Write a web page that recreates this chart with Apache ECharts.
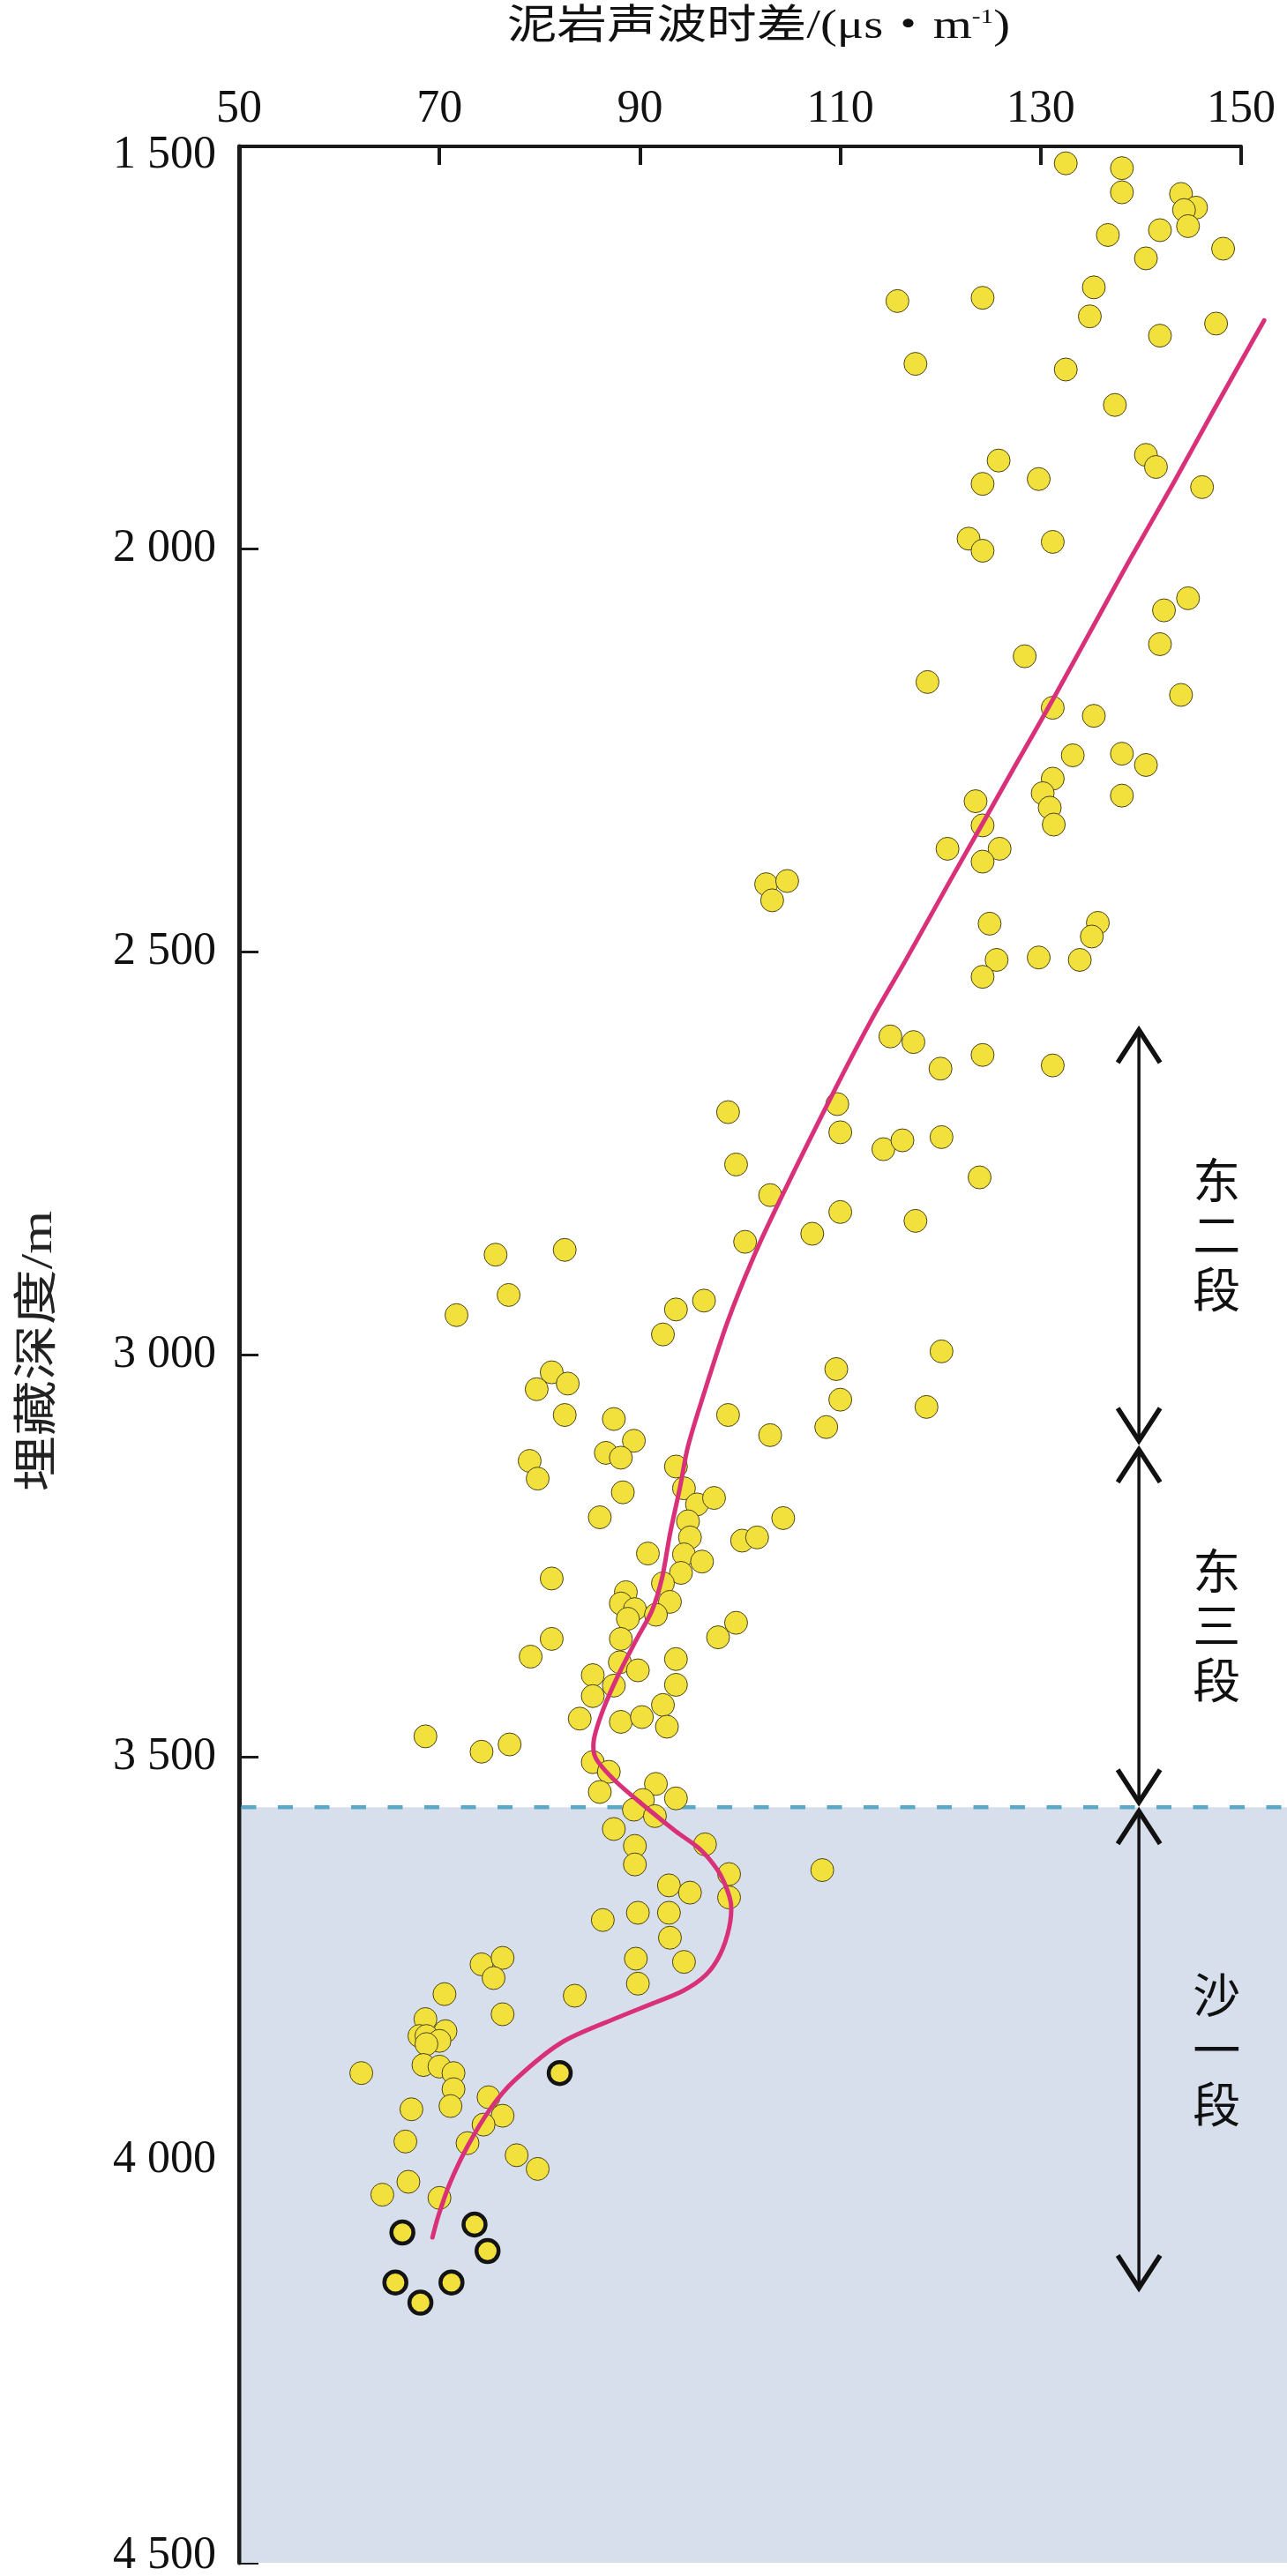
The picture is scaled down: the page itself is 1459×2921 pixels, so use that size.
<!DOCTYPE html>
<html>
<head>
<meta charset="utf-8">
<script src="https://cdn.jsdelivr.net/npm/echarts@6/dist/echarts.min.js"></script>
<style>
html,body{margin:0;padding:0;background:#fff;}
#chart{width:1459px;height:2921px;}
</style>
</head>
<body>
<div id="chart"></div>
<script>
// ---------------- DATA ----------------
const xTicks = [50, 70, 90, 110, 130, 150];
const depthTicks = [1500, 2000, 2500, 3000, 3500, 4000, 4500];

// mudstone sonic transit time (μs/m) vs burial depth (m)
const shalePoints = [
[132.5,1521],[138.1,1527],[138.1,1557],[144.0,1559],[145.5,1576],[144.3,1579],[144.7,1599],[141.9,1604],[136.7,1610],[148.2,1627],
[140.5,1639],[135.3,1675],[115.7,1692],[124.2,1688],[134.9,1711],[147.5,1720],[141.9,1735],[117.5,1770],[132.5,1777],[137.4,1821],
[125.8,1890],[124.2,1919],[129.8,1913],[140.5,1883],[141.5,1898],[146.1,1923],[122.8,1987],[124.2,2002],[131.2,1991],[144.7,2061],
[142.3,2076],[141.9,2118],[128.4,2133],[118.7,2165],[144.0,2181],[131.2,2197],[135.3,2207],[133.2,2256],[138.1,2254],[140.5,2268],
[138.1,2306],[131.2,2285],[130.2,2303],[130.9,2321],[131.3,2342],[123.5,2313],[124.2,2343],[120.7,2372],[125.9,2372],[124.2,2388],
[124.9,2465],[135.7,2464],[135.1,2481],[125.6,2510],[129.8,2507],[133.9,2510],[124.2,2531],[115.0,2605],[117.3,2612],[120.0,2645],
[124.2,2628],[131.2,2641],[102.6,2416],[103.2,2436],[104.7,2412],
[109.7,2689],[98.8,2699],[110.0,2724],[114.3,2745],[116.2,2734],[120.1,2730],[123.9,2780],[99.6,2764],[103.0,2802],[110.0,2823],
[107.2,2850],[117.5,2834],[100.5,2860],[93.6,2944],[96.4,2933],[92.3,2975],[120.1,2996],[109.6,3018],[110.0,3056],[118.6,3065],
[98.8,3075],[103.0,3100],[108.6,3090],[93.6,3139],
[75.6,2876],[82.5,2870],[76.9,2926],[71.7,2951],
[81.2,3022],[79.7,3043],[82.8,3036],[82.5,3075],[87.4,3080],[89.4,3107],[86.6,3122],[88.1,3128],[79.0,3132],[79.8,3154],
[88.3,3171],[86.0,3202],
[94.4,3166],[95.7,3186],[94.8,3207],[95.0,3227],[90.8,3247],[94.4,3248],[96.2,3257],[94.1,3271],[81.2,3278],[92.3,3284],
[88.6,3295],[88.1,3309],[89.5,3316],[88.8,3328],[93.0,3307],[91.6,3323],[88.1,3353],[81.2,3353],[79.1,3375],[88.0,3382],
[89.8,3392],[85.3,3398],[87.4,3411],[85.3,3424],[93.6,3378],[93.6,3410],[92.3,3435],[92.7,3462],[84.0,3452],[88.1,3456],
[90.2,3450],[68.6,3474],[74.2,3493],[77.0,3484],[85.3,3506],[86.9,3518],[86.0,3543],[91.6,3533],[93.6,3551],[90.3,3553],
[89.4,3565],[91.5,3573],
[87.4,3589],[89.5,3610],[89.5,3633],[96.5,3608],[98.9,3645],[108.2,3640],[92.9,3659],[95.0,3668],[98.9,3674],
[97.4,3178],[104.3,3203],[100.2,3231],[101.7,3227],[99.6,3333],[97.8,3351],
[86.3,3702],[74.2,3757],[76.3,3749],[75.4,3774],[83.5,3796],[70.5,3794],[76.3,3819],[68.6,3825],[70.6,3840],[68.0,3846],
[68.7,3846],[70.0,3852],[68.7,3856],[68.4,3882],[70.0,3884],[71.4,3892],[62.2,3892],[71.4,3912],[71.1,3933],[67.2,3937],
[74.9,3922],[76.3,3945],[74.4,3956],[72.8,3979],[66.6,3977],[77.7,3994],[79.8,4011],[66.9,4027],[64.3,4043],[70.0,4047],
[89.8,3693],[92.9,3693],[93.0,3724],[89.6,3750],[94.4,3754],[89.8,3781]
];

// samples drawn with a heavy black rim
const rimmedPoints = [[82.0,3892],[66.3,4090],[73.5,4080],[74.8,4113],[65.6,4152],[71.2,4152],[68.1,4177]];

// trend curve
const trendDt = [152.3,147.2,143.2,138.9,136.2,131.2,127.4,124.5,120.9,116.5,113.3,109.5,104.3,101.3,98.7,96.3,94.8,94.0,93.0,92.2,91.2,89.6,87.8,86.3,85.4,85.6,87.6,90.7,93.6,96.0,97.7,98.6,99.1,98.9,98.0,96.6,94.3,91.2,88.0,82.2,77.5,75.1,72.8,71.0,69.9,69.3];
const trendDepth = [1716,1829,1919,2013,2074,2187,2270,2334,2413,2511,2580,2670,2800,2880,2961,3052,3114,3165,3223,3278,3318,3355,3399,3442,3479,3501,3530,3563,3592,3614,3639,3661,3683,3712,3745,3770,3790,3806,3822,3854,3901,3936,3983,4030,4069,4096];

// stratigraphic intervals
const intervalNames = ['东二段', '东三段', '沙一段'];
const intervalTop = [2597, 3118, 3567];
const intervalBottom = [3107, 3556, 4159];
const boundaryDepth = 3562;

// ---------------- LAYOUT CONSTANTS ----------------
const SERIF = "'Liberation Serif', 'Noto Sans CJK SC', serif";
const CJK = "'Noto Sans CJK SC', sans-serif";
const ARROW_X = 139.8;

const chart = echarts.init(document.getElementById('chart'), null, {renderer: 'canvas'});

function fmtDepth(v) {
  const s = String(v);
  const t = s.slice(0, -3) + ' ' + s.slice(-3);
  if (v === depthTicks[0]) return '{first|' + t + '}';
  if (v === depthTicks[depthTicks.length - 1]) return '{last|' + t + '}';
  return '{n|' + t + '}';
}

const labelFont = {fontSize: 52, fontFamily: SERIF, color: '#111'};

const option = {
  animation: false,
  backgroundColor: '#ffffff',
  grid: {left: 271, right: 52, top: 166, bottom: 15, containLabel: false, outerBoundsMode: 'none'},
  xAxis: {
    type: 'value', position: 'top', min: xTicks[0], max: xTicks[xTicks.length - 1], interval: 20,
    axisLine: {show: true, onZero: false, lineStyle: {color: '#1a1a1a', width: 4}},
    axisTick: {show: true, inside: true, length: 21, lineStyle: {color: '#1a1a1a', width: 4}},
    axisLabel: Object.assign({margin: 16}, labelFont),
    splitLine: {show: false}
  },
  yAxis: {
    type: 'value', inverse: true, min: depthTicks[0], max: depthTicks[depthTicks.length - 1], interval: 500,
    axisLine: {show: true, onZero: false, lineStyle: {color: '#1a1a1a', width: 5}},
    axisTick: {show: true, inside: true, length: 22, lineStyle: {color: '#1a1a1a', width: 3}},
    axisLabel: {
      margin: 26, formatter: fmtDepth,
      rich: {
        n: Object.assign({}, labelFont),
        first: Object.assign({padding: [20, 0, 0, 0]}, labelFont),
        last: Object.assign({padding: [0, 0, 16, 0]}, labelFont)
      }
    },
    splitLine: {show: false}
  },
  graphic: [
    {
      type: 'text', x: 860, y: 31, scaleX: 1.23, silent: true,
      style: {
        text: '{a|泥岩声波时差/(μs・m}{s|-1}{a|)}',
        align: 'center', verticalAlign: 'middle',
        rich: {
          a: {fontSize: 46, fontFamily: SERIF, fill: '#111'},
          s: {fontSize: 24, fontFamily: SERIF, fill: '#111', verticalAlign: 'top'}
        }
      }
    },
    {
      type: 'text', x: 45, y: 1532, rotation: Math.PI / 2, scaleX: 1.26, silent: true,
      style: {text: '埋藏深度/m', fontSize: 50, fontFamily: SERIF, fill: '#222', align: 'center', verticalAlign: 'middle'}
    }
  ],
  series: [
    {
      // shaded 沙一段 zone + dashed boundary
      type: 'custom', coordinateSystem: 'cartesian2d', clip: false, silent: true, z: 1,
      data: [[xTicks[0], boundaryDepth, depthTicks[depthTicks.length - 1]]],
      encode: {x: 0, y: [1, 2]},
      renderItem: function (params, api) {
        const tl = api.coord([api.value(0), api.value(1)]);
        const bl = api.coord([api.value(0), api.value(2)]);
        const W = api.getWidth();
        const x0 = tl[0] + 2.5;
        return {
          type: 'group',
          children: [
            {type: 'rect', shape: {x: x0, y: tl[1], width: W - x0, height: bl[1] - tl[1]}, style: {fill: '#d8dfec'}},
            {type: 'line', shape: {x1: x0, y1: tl[1], x2: W, y2: tl[1]}, style: {stroke: '#5aa8c8', lineWidth: 4.5, lineDash: [17, 24.5], fill: 'none'}}
          ]
        };
      }
    },
    {
      type: 'scatter', z: 3, symbol: 'circle', symbolSize: 26,
      data: shalePoints,
      itemStyle: {color: '#f2e13c', borderColor: '#4a4418', borderWidth: 1, opacity: 1}
    },
    {
      type: 'scatter', z: 3, symbol: 'circle', symbolSize: 25,
      data: rimmedPoints,
      itemStyle: {color: '#f2e13c', borderColor: '#141414', borderWidth: 4.5, opacity: 1}
    },
    {
      // trend curve (custom polyline so it may run past the axis end like the original)
      type: 'custom', coordinateSystem: 'cartesian2d', clip: false, silent: true, z: 5,
      data: trendDt.map((v, i) => [v, trendDepth[i]]),
      encode: {x: 0, y: 1},
      renderItem: function (params, api) {
        if (params.dataIndex !== 0) return {type: 'group', children: []};
        const pts = trendDt.map((v, i) => api.coord([v, trendDepth[i]]));
        return {
          type: 'polyline',
          shape: {points: pts, smooth: 0.3},
          style: {stroke: '#d9307a', lineWidth: 5, fill: 'none', lineCap: 'round', lineJoin: 'round'}
        };
      }
    },
    {
      // interval arrows + labels
      type: 'custom', coordinateSystem: 'cartesian2d', clip: false, silent: true, z: 6,
      data: intervalNames.map((n, i) => [ARROW_X, intervalTop[i], intervalBottom[i]]),
      encode: {x: 0, y: [1, 2]},
      renderItem: function (params, api) {
        const t = api.coord([api.value(0), api.value(1)]);
        const b = api.coord([api.value(0), api.value(2)]);
        const x = t[0];
        const name = intervalNames[params.dataIndex];
        const hs = {stroke: '#111', lineWidth: 5.5, fill: 'none', lineJoin: 'miter'};
        return {
          type: 'group',
          children: [
            {type: 'line', shape: {x1: x, y1: t[1] + 2, x2: x, y2: b[1] - 2}, style: {stroke: '#111', lineWidth: 3.5, fill: 'none'}},
            {type: 'polyline', shape: {points: [[x - 24, t[1] + 37], [x, t[1]], [x + 24, t[1] + 37]]}, style: hs},
            {type: 'polyline', shape: {points: [[x - 24, b[1] - 37], [x, b[1]], [x + 24, b[1] - 37]]}, style: hs},
            {type: 'text', x: x + 88, y: (t[1] + b[1]) / 2,
             style: {text: name.split('').join('\n'), fontSize: 54, lineHeight: 62, fontFamily: CJK, fill: '#111', align: 'center', verticalAlign: 'middle'}}
          ]
        };
      }
    }
  ]
};
chart.setOption(option);
</script>
</body>
</html>
